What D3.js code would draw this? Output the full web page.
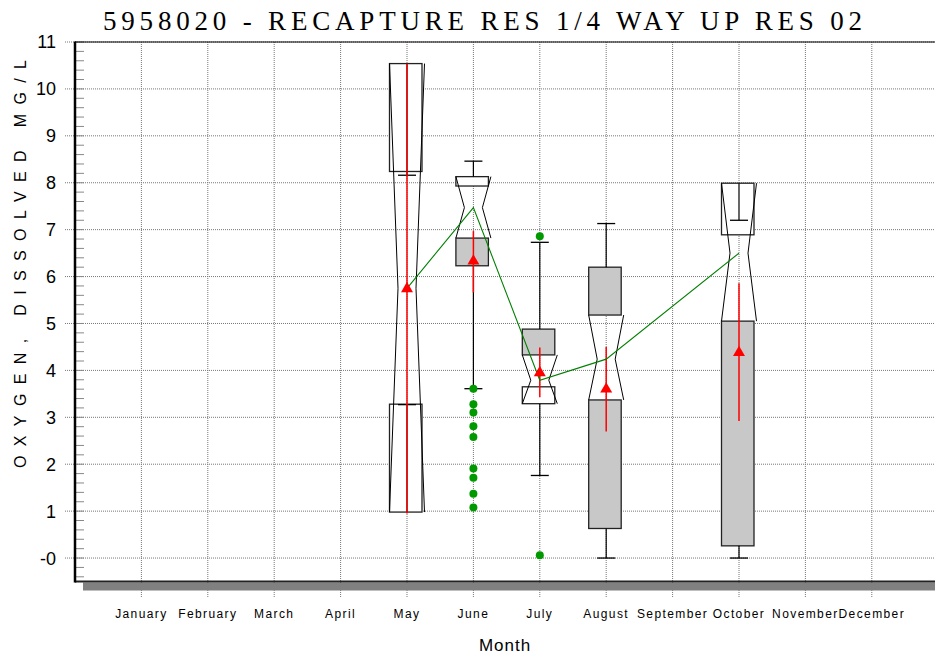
<!DOCTYPE html>
<html>
<head>
<meta charset="utf-8">
<script src="https://cdn.jsdelivr.net/npm/d3@7"></script>
<style>
  body { margin: 0; background: #fff; }
  svg { display: block; }
</style>
</head>
<body>
<svg></svg>
<script>
// month axis
const months = ["January", "February", "March", "April", "May", "June", "July",
  "August", "September", "October", "November", "December"];
const yTicks = [0, 1, 2, 3, 4, 5, 6, 7, 8, 9, 10, 11];
const yTickLabels = ["-0", "1", "2", "3", "4", "5", "6", "7", "8", "9", "10", "11"];

// months that have samples (index into months)
const boxMonths = [4, 5, 6, 7, 9];
const q1 = [3.28, 6.23, 3.65, 0.63, 0.26];
const median = [5.75, 7.47, 3.79, 4.24, 6.50];
const q3 = [8.24, 7.93, 4.88, 6.20, 6.89];
const notchLo = [0.98, 6.82, 3.29, 3.37, 5.05];
const notchHi = [10.54, 8.13, 4.33, 5.18, 7.99];
const whiskerLo = [3.27, 3.61, 1.76, 0.0, 0.0];
const whiskerHi = [8.16, 8.46, 6.73, 7.13, 7.20];
const mean = [5.74, 6.33, 3.95, 3.60, 4.38];
const meanLo = [0.95, 5.66, 3.43, 2.70, 2.92];
const meanHi = [10.54, 6.97, 4.49, 4.50, 5.86];
const outliers = [
  [],
  [3.61, 3.28, 3.10, 2.81, 2.58, 1.91, 1.71, 1.37, 1.08],
  [6.86, 0.06],
  [],
  []
];

const W = 935, H = 657;
const svg = d3.select("svg").attr("width", W).attr("height", H);

const x = d3.scaleLinear().domain([0, 13]).range([75, 938.2]);
const y = d3.scaleLinear().domain([-0.5, 11]).range([581.5, 42]);

const GRAY = "#c8c8c8";

// title
svg.append("text")
  .attr("x", 103).attr("y", 30)
  .attr("textLength", 759).attr("lengthAdjust", "spacing")
  .style("font-family", "'Liberation Serif', 'Times New Roman', serif")
  .style("font-size", "27px")
  .style("fill", "#000")
  .text("5958020 - RECAPTURE RES 1/4 WAY UP RES 02");

// grid
const grid = svg.append("g").style("stroke", "#777").style("stroke-width", 1).style("stroke-dasharray", "1,1");
yTicks.forEach(v => {
  grid.append("line").attr("x1", 65).attr("x2", W).attr("y1", y(v)).attr("y2", y(v));
});
months.forEach((m, i) => {
  grid.append("line").attr("x1", x(i + 1)).attr("x2", x(i + 1)).attr("y1", y(11)).attr("y2", 598);
});

// minor ticks every 0.2 on the inside of the y axis
const minor = d3.range(-0.4, 11.01, 0.2);
svg.append("g").selectAll("line").data(minor).join("line")
  .attr("x1", 75).attr("x2", 84)
  .attr("y1", d => y(d)).attr("y2", d => y(d))
  .style("stroke", "#888").style("stroke-width", 1);

// frame: top line, shadow, bottom axis, left axis
svg.append("line").attr("x1", 75).attr("x2", W).attr("y1", y(11)).attr("y2", y(11))
  .style("stroke", "#000").style("stroke-width", 1.2);
svg.append("rect").attr("x", 83).attr("y", 582.5).attr("width", W - 83).attr("height", 8)
  .style("fill", "#808080");
svg.append("line").attr("x1", 75).attr("x2", W).attr("y1", 581.5).attr("y2", 581.5)
  .style("stroke", "#222").style("stroke-width", 2);
svg.append("line").attr("x1", 75).attr("x2", 75).attr("y1", y(11) - 0.5).attr("y2", 582.5)
  .style("stroke", "#000").style("stroke-width", 2.5);

// y tick labels
svg.append("g").selectAll("text").data(yTicks).join("text")
  .attr("x", 56).attr("y", d => y(d)).attr("dy", "0.36em")
  .attr("text-anchor", "end")
  .style("font-family", "'Liberation Sans Narrow', 'Liberation Sans', Arial, sans-serif")
  .style("font-size", "18px")
  .text((d, i) => yTickLabels[i]);

// month labels
svg.append("g").selectAll("text").data(months).join("text")
  .attr("x", (d, i) => x(i + 1)).attr("y", 618)
  .attr("text-anchor", "middle")
  .style("font-family", "'Liberation Sans', Arial, sans-serif")
  .style("font-size", "12px")
  .style("letter-spacing", "1.4px")
  .text(d => d);

svg.append("text")
  .attr("x", 505).attr("y", 651)
  .attr("text-anchor", "middle")
  .style("font-family", "'Liberation Sans', Arial, sans-serif")
  .style("font-size", "17px")
  .style("letter-spacing", "1px")
  .text("Month");

svg.append("text")
  .attr("transform", "translate(26,264) rotate(-90)")
  .attr("text-anchor", "middle")
  .attr("textLength", 408).attr("lengthAdjust", "spacing")
  .style("font-family", "'Liberation Sans', Arial, sans-serif")
  .style("font-size", "16px")
  .text("OXYGEN, DISSOLVED MG/L");

// boxes
const boxes = svg.append("g");
boxMonths.forEach((mi, i) => {
  const c = x(mi + 1);
  const g = boxes.append("g");

  const upTop = Math.max(q3[i], notchHi[i]), upBot = Math.min(q3[i], notchHi[i]);
  g.append("rect").attr("x", c - 17.5).attr("width", 32.5)
    .attr("y", y(upTop)).attr("height", y(upBot) - y(upTop))
    .style("fill", q3[i] > notchHi[i] ? GRAY : "#fff")
    .style("stroke", "#222").style("stroke-width", 1.3);

  const loTop = Math.max(q1[i], notchLo[i]), loBot = Math.min(q1[i], notchLo[i]);
  g.append("rect").attr("x", c - 17.5).attr("width", 32.5)
    .attr("y", y(loTop)).attr("height", y(loBot) - y(loTop))
    .style("fill", q1[i] < notchLo[i] ? GRAY : "#fff")
    .style("stroke", "#222").style("stroke-width", 1.3);

  // notch
  [-1, 1].forEach(s => {
    g.append("path")
      .attr("d", d3.line()([[c + s * 17.5, y(notchHi[i])], [c + s * 9, y(median[i])], [c + s * 17.5, y(notchLo[i])]]))
      .style("fill", "none").style("stroke", "#000").style("stroke-width", 1);
  });

  // whiskers
  g.append("line").attr("x1", c).attr("x2", c).attr("y1", y(upTop)).attr("y2", y(whiskerHi[i]))
    .style("stroke", "#000").style("stroke-width", 1.2);
  g.append("line").attr("x1", c).attr("x2", c).attr("y1", y(loBot)).attr("y2", y(whiskerLo[i]))
    .style("stroke", "#000").style("stroke-width", 1.2);
  [whiskerHi[i], whiskerLo[i]].forEach(v => {
    g.append("line").attr("x1", c - 9).attr("x2", c + 9).attr("y1", y(v)).attr("y2", y(v))
      .style("stroke", "#000").style("stroke-width", 1.3);
  });

  // mean interval
  g.append("line").attr("x1", c).attr("x2", c).attr("y1", y(meanHi[i])).attr("y2", y(meanLo[i]))
    .style("stroke", "#ff0000").style("stroke-width", 1.5);
});

// median line
const medLine = d3.line().x((d, i) => x(boxMonths[i] + 1)).y(d => y(d));
svg.append("path").attr("d", medLine(median))
  .style("fill", "none").style("stroke", "#008000").style("stroke-width", 1.1);

// means
svg.append("g").selectAll("path").data(mean).join("path")
  .attr("d", d3.symbol(d3.symbolTriangle, 62))
  .attr("transform", (d, i) => `translate(${x(boxMonths[i] + 1)},${y(d)})`)
  .style("fill", "#ff0000");

// outliers
boxMonths.forEach((mi, i) => {
  svg.append("g").selectAll("circle").data(outliers[i]).join("circle")
    .attr("cx", x(mi + 1)).attr("cy", d => y(d)).attr("r", 4)
    .style("fill", "#009a00");
});
</script>
</body>
</html>
